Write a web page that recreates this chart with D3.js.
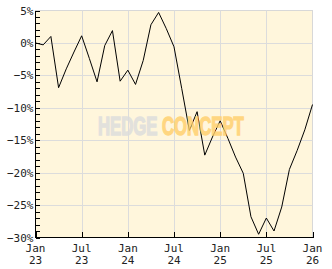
<!DOCTYPE html>
<html><head><meta charset="utf-8">
<script src="https://cdn.jsdelivr.net/npm/d3@7"></script>
<style>body{margin:0;background:#fff}svg{display:block}</style>
</head><body>
<script>
const months = d3.range(0, 37); // Jan 23 .. Jan 26, monthly
const values = [0, -0.3, 1.0, -6.9, -4.0, -1.4, 1.1, -2.4, -6.0, -0.4, 1.9, -5.9,
  -4.2, -6.4, -2.7, 2.8, 4.7, 2.2, -0.6, -7.0, -13.5, -10.6, -17.3, -14.5,
  -12.0, -14.7, -17.6, -20.1, -26.8, -29.5, -27.0, -29.0, -25.3, -19.5, -16.6, -13.4, -9.5];
const xTickMonths = [0, 6, 12, 18, 24, 30, 36];
const xTickLabels = [["Jan","23"],["Jul","23"],["Jan","24"],["Jul","24"],["Jan","25"],["Jul","25"],["Jan","26"]];
const yTicks = [5, 0, -5, -10, -15, -20, -25, -30];
const yMinor = d3.range(-30, 6, 1);

const W = 332, H = 269;
const L = 35.5, R = 312.5, T = 10.5, B = 237.5;
const svg = d3.select("body").append("svg").attr("width", W).attr("height", H);
const x = d3.scaleLinear().domain([0, 36]).range([L, R]);
const y = d3.scaleLinear().domain([-30, 5]).range([B, T]);

svg.append("rect").attr("x", L).attr("y", T).attr("width", R - L).attr("height", B - T)
  .attr("fill", "#fff6dc").attr("stroke", "#d8d8d8");

// grid
svg.append("g").selectAll("line").data(yTicks.filter(d => d > -30 && d < 5)).join("line")
  .attr("x1", L).attr("x2", R).attr("y1", d => Math.round(y(d)) + 0.5).attr("y2", d => Math.round(y(d)) + 0.5)
  .attr("stroke", "#dcdcdc");
svg.append("g").selectAll("line").data(xTickMonths.slice(1, -1)).join("line")
  .attr("y1", T).attr("y2", B).attr("x1", d => Math.round(x(d)) + 0.5).attr("x2", d => Math.round(x(d)) + 0.5)
  .attr("stroke", "#dcdcdc");

// line
const line = d3.line().x((d, i) => x(months[i])).y(d => y(d));
svg.append("path").datum(values).attr("d", line).attr("fill", "none").attr("stroke", "#000").attr("stroke-width", 1);

// watermark
const wm = svg.append("g").attr("transform", "translate(98,134.5) scale(0.67,1)")
  .attr("font-family", "Liberation Sans, Arial, sans-serif").attr("font-weight", "bold")
  .attr("font-size", 25).attr("opacity", 0.8).attr("stroke-width", 1.4);
wm.append("text").attr("x", 0).attr("y", 0).attr("fill", "#dcdcdc").attr("stroke", "#dcdcdc").text("HEDGE");
wm.append("text").attr("x", 95.5).attr("y", 0).attr("fill", "#ffcf6a").attr("stroke", "#ffcf6a").text("CONCEPT");

// axes
const ax = svg.append("g").attr("stroke", "#000").attr("shape-rendering", "crispEdges");
ax.append("line").attr("x1", L).attr("x2", L).attr("y1", T).attr("y2", B + 0.5);
ax.append("line").attr("x1", L).attr("x2", R + 0.5).attr("y1", B).attr("y2", B);
ax.selectAll(".ym").data(yMinor).join("line").attr("class", "ym")
  .attr("x1", L).attr("x2", L + 4).attr("y1", d => Math.round(y(d)) + 0.5).attr("y2", d => Math.round(y(d)) + 0.5);
ax.selectAll(".xt").data(xTickMonths).join("line").attr("class", "xt")
  .attr("x1", d => Math.round(x(d)) + 0.5).attr("x2", d => Math.round(x(d)) + 0.5).attr("y1", B).attr("y2", B - 6);

// labels
const lab = svg.append("g").attr("font-family", "DejaVu Sans Mono, monospace").attr("font-size", 11).attr("fill", "#222");
lab.selectAll(".yl").data(yTicks).join("text").attr("class", "yl")
  .attr("x", L - 2).attr("y", d => y(d) + 4).attr("text-anchor", "end")
  .text(d => (d < 0 ? "\u2212" + Math.abs(d) : d) + "%");
const xl = lab.selectAll(".xl").data(xTickMonths).join("text").attr("class", "xl")
  .attr("text-anchor", "middle");
xl.append("tspan").attr("x", d => x(d)).attr("y", 252).text((d, i) => xTickLabels[i][0]);
xl.append("tspan").attr("x", d => x(d)).attr("y", 264).text((d, i) => xTickLabels[i][1]);
</script>
</body></html>
